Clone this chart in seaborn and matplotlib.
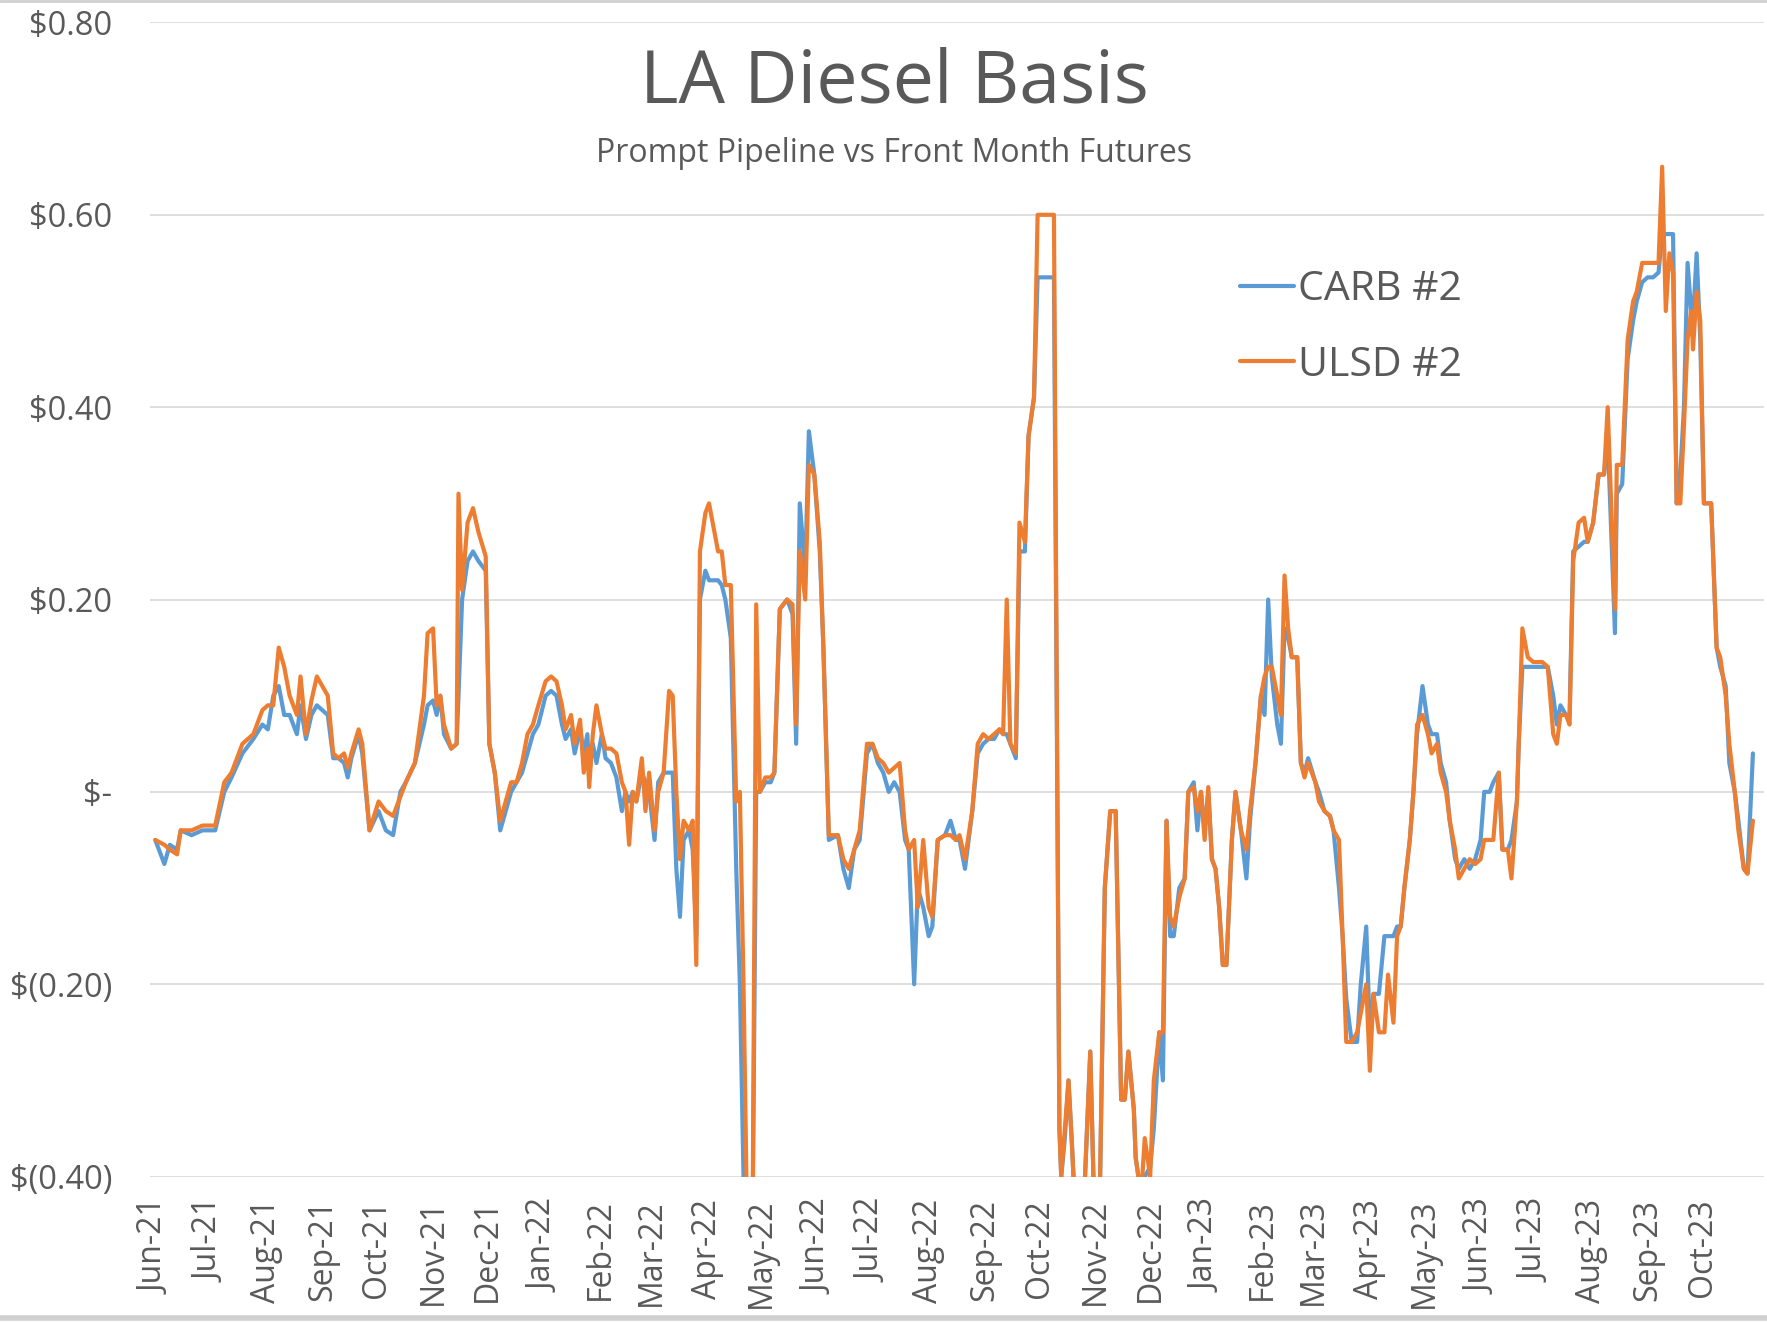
import pandas as pd
import matplotlib
matplotlib.use("Agg")
import matplotlib.pyplot as plt
from matplotlib.lines import Line2D
import matplotlib.dates as mdates
import seaborn as sns

# values ($/gal basis, prompt pipeline vs front month)
dates = [
    "2021-06-01", "2021-06-06", "2021-06-09", "2021-06-13", "2021-06-15", "2021-06-21", "2021-06-27",
    "2021-07-04", "2021-07-09", "2021-07-13", "2021-07-19", "2021-07-25", "2021-07-30",
    "2021-08-02", "2021-08-05", "2021-08-08", "2021-08-11", "2021-08-14", "2021-08-18", "2021-08-20",
    "2021-08-23", "2021-08-26", "2021-08-29",
    "2021-09-04", "2021-09-07", "2021-09-10", "2021-09-13", "2021-09-15", "2021-09-17", "2021-09-21",
    "2021-09-23", "2021-09-27",
    "2021-10-02", "2021-10-06", "2021-10-10", "2021-10-14", "2021-10-17", "2021-10-22", "2021-10-27",
    "2021-10-29",
    "2021-11-01", "2021-11-03", "2021-11-05", "2021-11-07", "2021-11-11", "2021-11-14", "2021-11-15",
    "2021-11-17", "2021-11-20", "2021-11-23", "2021-11-26", "2021-11-30",
    "2021-12-02", "2021-12-05", "2021-12-08", "2021-12-11", "2021-12-14", "2021-12-17", "2021-12-20",
    "2021-12-23", "2021-12-26", "2021-12-29",
    "2022-01-02", "2022-01-05", "2022-01-08", "2022-01-11", "2022-01-13", "2022-01-16", "2022-01-18",
    "2022-01-21", "2022-01-23", "2022-01-25", "2022-01-26", "2022-01-28", "2022-01-30",
    "2022-02-02", "2022-02-04", "2022-02-07", "2022-02-10", "2022-02-13", "2022-02-15", "2022-02-17",
    "2022-02-19", "2022-02-21", "2022-02-24", "2022-02-26", "2022-02-28",
    "2022-03-03", "2022-03-05", "2022-03-08", "2022-03-11", "2022-03-13", "2022-03-15", "2022-03-17",
    "2022-03-19", "2022-03-22", "2022-03-24", "2022-03-26", "2022-03-28", "2022-03-31",
    "2022-04-02", "2022-04-05", "2022-04-07", "2022-04-09", "2022-04-11", "2022-04-14", "2022-04-17",
    "2022-04-19", "2022-04-21", "2022-04-23", "2022-04-26", "2022-04-28", "2022-04-30",
    "2022-05-03", "2022-05-06", "2022-05-08", "2022-05-11", "2022-05-15", "2022-05-18", "2022-05-20",
    "2022-05-22", "2022-05-25", "2022-05-27", "2022-05-30",
    "2022-06-02", "2022-06-04", "2022-06-07", "2022-06-12", "2022-06-15", "2022-06-18", "2022-06-21",
    "2022-06-24", "2022-06-28",
    "2022-07-01", "2022-07-04", "2022-07-07", "2022-07-10", "2022-07-13", "2022-07-16", "2022-07-19",
    "2022-07-21", "2022-07-24", "2022-07-26", "2022-07-29",
    "2022-08-01", "2022-08-03", "2022-08-06", "2022-08-10", "2022-08-13", "2022-08-16", "2022-08-18",
    "2022-08-21", "2022-08-25", "2022-08-28", "2022-08-31",
    "2022-09-03", "2022-09-06", "2022-09-09", "2022-09-11", "2022-09-13", "2022-09-15", "2022-09-18",
    "2022-09-20", "2022-09-23", "2022-09-25", "2022-09-28", "2022-09-30",
    "2022-10-05", "2022-10-09", "2022-10-12", "2022-10-13", "2022-10-15", "2022-10-17", "2022-10-19",
    "2022-10-21", "2022-10-25", "2022-10-29", "2022-10-31",
    "2022-11-03", "2022-11-06", "2022-11-09", "2022-11-12", "2022-11-15", "2022-11-17", "2022-11-19",
    "2022-11-22", "2022-11-23", "2022-11-26", "2022-11-28",
    "2022-12-01", "2022-12-03", "2022-12-06", "2022-12-08", "2022-12-10", "2022-12-12", "2022-12-14",
    "2022-12-17", "2022-12-20", "2022-12-22", "2022-12-25", "2022-12-27", "2022-12-29", "2022-12-31",
    "2023-01-02", "2023-01-04", "2023-01-06", "2023-01-08", "2023-01-10", "2023-01-12", "2023-01-15",
    "2023-01-17", "2023-01-20", "2023-01-23", "2023-01-25", "2023-01-28", "2023-01-31",
    "2023-02-02", "2023-02-04", "2023-02-06", "2023-02-09", "2023-02-11", "2023-02-13", "2023-02-15",
    "2023-02-17", "2023-02-20", "2023-02-22", "2023-02-24", "2023-02-26",
    "2023-03-02", "2023-03-04", "2023-03-07", "2023-03-10", "2023-03-12", "2023-03-15", "2023-03-17",
    "2023-03-19", "2023-03-22", "2023-03-25", "2023-03-27", "2023-03-30",
    "2023-04-01", "2023-04-03", "2023-04-06", "2023-04-09", "2023-04-11", "2023-04-14", "2023-04-16",
    "2023-04-18", "2023-04-20", "2023-04-23", "2023-04-25", "2023-04-27", "2023-04-30",
    "2023-05-03", "2023-05-05", "2023-05-08", "2023-05-10", "2023-05-13", "2023-05-15", "2023-05-18",
    "2023-05-20", "2023-05-23", "2023-05-26", "2023-05-29",
    "2023-06-01", "2023-06-03", "2023-06-06", "2023-06-08", "2023-06-11", "2023-06-13", "2023-06-16",
    "2023-06-18", "2023-06-21", "2023-06-22", "2023-06-24", "2023-06-27", "2023-06-30",
    "2023-07-05", "2023-07-08", "2023-07-11", "2023-07-13", "2023-07-15", "2023-07-18", "2023-07-20",
    "2023-07-22", "2023-07-25", "2023-07-28", "2023-07-30",
    "2023-08-02", "2023-08-05", "2023-08-08", "2023-08-10", "2023-08-14", "2023-08-15", "2023-08-18",
    "2023-08-21", "2023-08-24", "2023-08-26", "2023-08-29",
    "2023-09-01", "2023-09-04", "2023-09-07", "2023-09-09", "2023-09-11", "2023-09-13", "2023-09-15",
    "2023-09-17", "2023-09-19", "2023-09-21", "2023-09-23", "2023-09-25", "2023-09-26", "2023-09-28",
    "2023-09-30",
    "2023-10-02", "2023-10-06", "2023-10-09", "2023-10-11", "2023-10-14", "2023-10-16", "2023-10-19",
    "2023-10-21", "2023-10-24", "2023-10-26", "2023-10-29",
]

carb = [
    -0.05, -0.075, -0.055, -0.06, -0.04, -0.045, -0.04,
    -0.04, 0.0, 0.015, 0.04, 0.055, 0.07,
    0.065, 0.10, 0.11, 0.08, 0.08, 0.06, 0.09, 0.055, 0.08, 0.09,
    0.08, 0.035, 0.035, 0.03, 0.015, 0.035, 0.06, 0.04, -0.04,
    -0.02, -0.04, -0.045, 0.0, 0.01, 0.03, 0.07, 0.09,
    0.095, 0.08, 0.10, 0.06, 0.045, 0.05, 0.10, 0.20, 0.24, 0.25, 0.24, 0.23,
    0.05, 0.02, -0.04, -0.02, 0.0, 0.01, 0.02, 0.04, 0.06, 0.07,
    0.10, 0.105, 0.10, 0.07, 0.055, 0.065, 0.04, 0.065, 0.04, 0.06, 0.02, 0.05, 0.03,
    0.06, 0.035, 0.03, 0.015, -0.02, 0.0, -0.01, 0.0, -0.01, 0.02, 0.01, 0.0,
    -0.05, 0.01, 0.02, 0.02, 0.02, -0.08, -0.13, -0.05, -0.04, -0.06, -0.15, 0.20, 0.23,
    0.22, 0.22, 0.22, 0.215, 0.20, 0.16, -0.08, -0.20, -0.40, -0.45, -0.45, 0.0, 0.0,
    0.01, 0.01, 0.02, 0.19, 0.20, 0.185, 0.05, 0.30, 0.23, 0.375, 0.33,
    0.25, 0.15, -0.05, -0.045, -0.08, -0.10, -0.06, -0.05, 0.04,
    0.05, 0.03, 0.02, 0.0, 0.01, 0.0, -0.05, -0.06, -0.20, -0.10, -0.12,
    -0.15, -0.14, -0.05, -0.045, -0.03, -0.05, -0.05, -0.08, -0.02, 0.04, 0.05,
    0.055, 0.055, 0.065, 0.06, 0.06, 0.05, 0.035, 0.25, 0.25, 0.37, 0.41, 0.535,
    0.535, 0.535, -0.35, -0.40, -0.36, -0.30, -0.37, -0.45, -0.45, -0.27, -0.42,
    -0.45, -0.10, -0.02, -0.02, -0.32, -0.32, -0.27, -0.33, -0.38, -0.42, -0.40,
    -0.39, -0.35, -0.25, -0.30, -0.03, -0.15, -0.15, -0.10, -0.09, 0.0, 0.01, -0.04, 0.0, -0.04,
    0.0, -0.07, -0.08, -0.12, -0.18, -0.18, -0.05, 0.0, -0.04, -0.09, -0.03, 0.03, 0.10,
    0.08, 0.20, 0.12, 0.07, 0.05, 0.17, 0.16, 0.14, 0.14, 0.03, 0.02, 0.035,
    0.01, 0.0, -0.02, -0.025, -0.04, -0.10, -0.15, -0.215, -0.26, -0.26, -0.20, -0.14,
    -0.25, -0.21, -0.21, -0.15, -0.15, -0.15, -0.14, -0.14, -0.10, -0.05, 0.0, 0.06, 0.11,
    0.07, 0.06, 0.06, 0.03, 0.01, -0.03, -0.07, -0.08, -0.07, -0.08, -0.07,
    -0.05, 0.0, 0.0, 0.01, 0.02, -0.06, -0.06, -0.05, -0.01, 0.05, 0.13, 0.13, 0.13,
    0.13, 0.13, 0.10, 0.07, 0.09, 0.08, 0.08, 0.25, 0.255, 0.26, 0.26,
    0.28, 0.33, 0.33, 0.37, 0.165, 0.31, 0.32, 0.45, 0.49, 0.51, 0.53,
    0.535, 0.535, 0.54, 0.58, 0.58, 0.58, 0.58, 0.30, 0.33, 0.40, 0.55, 0.50, 0.49, 0.56, 0.47,
    0.30, 0.30, 0.15, 0.13, 0.11, 0.03, 0.0, -0.03, -0.08, -0.085, 0.04,
]

ulsd = [
    -0.05, -0.055, -0.06, -0.065, -0.04, -0.04, -0.035,
    -0.035, 0.01, 0.02, 0.05, 0.06, 0.085,
    0.09, 0.09, 0.15, 0.13, 0.10, 0.08, 0.12, 0.06, 0.095, 0.12,
    0.10, 0.04, 0.035, 0.04, 0.025, 0.04, 0.065, 0.05, -0.04,
    -0.01, -0.02, -0.025, -0.005, 0.01, 0.03, 0.10, 0.165,
    0.17, 0.09, 0.10, 0.07, 0.045, 0.05, 0.31, 0.21, 0.28, 0.295, 0.27, 0.245,
    0.05, 0.02, -0.03, -0.01, 0.01, 0.01, 0.03, 0.06, 0.07, 0.09,
    0.115, 0.12, 0.115, 0.09, 0.065, 0.08, 0.05, 0.075, 0.02, 0.045, 0.005, 0.06, 0.09,
    0.06, 0.045, 0.045, 0.04, 0.01, 0.0, -0.055, 0.0, -0.01, 0.035, -0.02, 0.02,
    -0.04, 0.0, 0.02, 0.105, 0.10, 0.0, -0.07, -0.03, -0.04, -0.03, -0.18, 0.25, 0.29,
    0.30, 0.27, 0.25, 0.25, 0.215, 0.215, -0.01, 0.0, -0.20, -0.45, -0.45, 0.195, 0.0,
    0.015, 0.015, 0.02, 0.19, 0.20, 0.195, 0.07, 0.25, 0.20, 0.34, 0.33,
    0.26, 0.15, -0.045, -0.045, -0.07, -0.08, -0.06, -0.04, 0.05,
    0.05, 0.035, 0.03, 0.02, 0.025, 0.03, -0.04, -0.06, -0.05, -0.12, -0.05,
    -0.12, -0.13, -0.05, -0.045, -0.045, -0.05, -0.045, -0.07, -0.02, 0.05, 0.06,
    0.055, 0.06, 0.065, 0.06, 0.20, 0.05, 0.04, 0.28, 0.26, 0.37, 0.41, 0.60,
    0.60, 0.60, -0.35, -0.40, -0.35, -0.30, -0.37, -0.45, -0.45, -0.27, -0.42,
    -0.45, -0.10, -0.02, -0.02, -0.32, -0.32, -0.27, -0.33, -0.38, -0.42, -0.36,
    -0.40, -0.30, -0.25, -0.25, -0.03, -0.13, -0.14, -0.11, -0.09, 0.0, 0.005, -0.02, 0.0, -0.05,
    0.005, -0.07, -0.08, -0.12, -0.18, -0.18, -0.05, 0.0, -0.04, -0.06, -0.02, 0.03, 0.10,
    0.12, 0.13, 0.13, 0.10, 0.08, 0.225, 0.17, 0.14, 0.14, 0.03, 0.015, 0.03,
    0.01, -0.01, -0.02, -0.025, -0.04, -0.05, -0.15, -0.26, -0.26, -0.25, -0.23, -0.20,
    -0.29, -0.21, -0.25, -0.25, -0.19, -0.24, -0.15, -0.14, -0.10, -0.05, 0.0, 0.07, 0.08,
    0.06, 0.04, 0.05, 0.02, 0.0, -0.03, -0.06, -0.09, -0.08, -0.07, -0.075,
    -0.07, -0.05, -0.05, -0.05, 0.02, -0.06, -0.06, -0.09, -0.01, 0.05, 0.17, 0.14, 0.135,
    0.135, 0.13, 0.06, 0.05, 0.08, 0.08, 0.07, 0.24, 0.28, 0.285, 0.26,
    0.28, 0.33, 0.33, 0.40, 0.19, 0.34, 0.34, 0.47, 0.51, 0.52, 0.55,
    0.55, 0.55, 0.55, 0.65, 0.50, 0.56, 0.54, 0.30, 0.30, 0.38, 0.47, 0.50, 0.46, 0.52, 0.49,
    0.30, 0.30, 0.15, 0.14, 0.10, 0.05, 0.0, -0.04, -0.08, -0.085, -0.03,
]

series_names = ["CARB #2", "ULSD #2"]
series_colors = ["#5B9BD5", "#ED7D31"]
y_ticks = [-0.4, -0.2, 0.0, 0.2, 0.4, 0.6, 0.8]
y_tick_labels = ["$(0.40)", "$(0.20)", "$-", "$0.20", "$0.40", "$0.60", "$0.80"]
title = "LA Diesel Basis"
subtitle = "Prompt Pipeline vs Front Month Futures"

df = pd.DataFrame({"date": pd.to_datetime(dates), "CARB #2": carb, "ULSD #2": ulsd})
long_df = df.melt(id_vars="date", var_name="series", value_name="basis")

sns.set_theme(style="white")
plt.rcParams["font.family"] = ["Open Sans", "DejaVu Sans"]
text_color = "#595959"

fig = plt.figure(figsize=(17.67, 13.22), dpi=100)
ax = fig.add_axes([0.0848, 0.110, 0.9134, 0.873])

sns.lineplot(data=long_df, x="date", y="basis", hue="series", hue_order=series_names,
             palette=series_colors, linewidth=3.0, estimator=None, legend=False, ax=ax)

ax.set_ylim(-0.4, 0.8)
ax.set_xlim(pd.Timestamp("2021-05-29"), pd.Timestamp("2023-11-04"))
ax.set_yticks(y_ticks)
ax.set_yticklabels(y_tick_labels)
ax.set_xticks(pd.date_range("2021-06-01", "2023-10-01", freq="MS"))
ax.xaxis.set_major_formatter(mdates.DateFormatter("%b-%y"))
plt.setp(ax.get_xticklabels(), rotation=90, ha="center", va="top")
ax.tick_params(axis="x", length=0, pad=16, labelsize=23, labelcolor=text_color)
ax.tick_params(axis="y", length=0, pad=27, labelsize=23.5, labelcolor=text_color)
ax.yaxis.grid(True, color="#D9D9D9", linewidth=1.2)
ax.xaxis.grid(False)
for spine in ax.spines.values():
    spine.set_visible(False)
ax.set_xlabel("")
ax.set_ylabel("")

fig.text(0.506, 0.937, title, ha="center", va="center", fontsize=53, color=text_color)
fig.text(0.506, 0.884, subtitle, ha="center", va="center", fontsize=23, color=text_color)

handles = [Line2D([0], [0], color=c, linewidth=3.0) for c in series_colors]
fig.legend(handles, series_names, loc="center left", bbox_to_anchor=(0.7018, 0.752),
           frameon=False, fontsize=29.5, labelcolor=text_color, handlelength=1.32,
           handletextpad=0.1, labelspacing=0.85, borderpad=0, borderaxespad=0)

# light chart-area border at top and bottom, like the source screenshot
fig.add_artist(Line2D([0, 1], [0.999, 0.999], color="#D0D0D0", linewidth=2, transform=fig.transFigure))
fig.add_artist(Line2D([0, 1], [0.003, 0.003], color="#D0D0D0", linewidth=4, transform=fig.transFigure))

fig.savefig("out.png", dpi=100)
